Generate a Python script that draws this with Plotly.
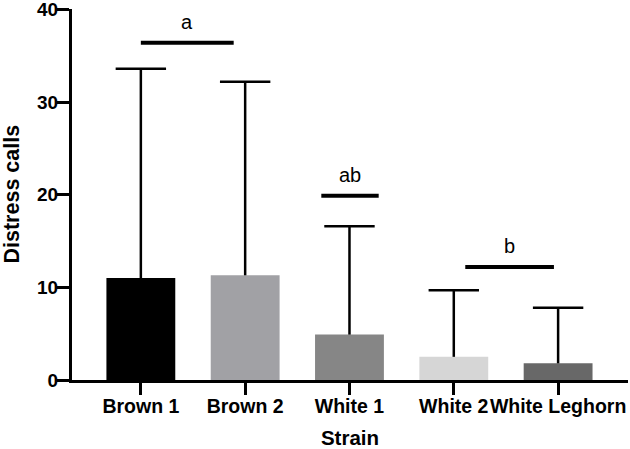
import plotly.graph_objects as go

strains = ["Brown 1", "Brown 2", "White 1", "White 2", "White Leghorn"]
means = [11.0, 11.3, 4.9, 2.5, 1.8]
sd_upper = [22.6, 20.9, 11.7, 7.2, 6.0]
bar_colors = ["#000000", "#a1a1a5", "#868686", "#d6d6d6", "#686868"]

sig_labels = ["a", "ab", "b"]
sig_x0 = [0.0, 1.73, 3.11]
sig_x1 = [0.89, 2.28, 3.96]
sig_y = [36.4, 19.9, 12.2]

y_ticks = [0, 10, 20, 30, 40]

FONT = "Liberation Sans, Arial, sans-serif"
xs = list(range(len(strains)))

fig = go.Figure()
fig.add_trace(go.Bar(
    x=xs,
    y=means,
    width=0.66,
    marker=dict(color=bar_colors, line=dict(width=0)),
    error_y=dict(type="data", symmetric=False, array=sd_upper,
                 arrayminus=[0] * len(means),
                 color="black", thickness=2.5, width=0),
    showlegend=False, hoverinfo="skip",
))
# caps of the error bars (top only)
fig.add_trace(go.Scatter(
    x=xs,
    y=[m + s for m, s in zip(means, sd_upper)],
    mode="markers",
    marker=dict(symbol="line-ew", size=36, color="black",
                line=dict(width=2.5, color="black")),
    showlegend=False, hoverinfo="skip",
))

for lab, x0, x1, y in zip(sig_labels, sig_x0, sig_x1, sig_y):
    fig.add_shape(type="line", x0=x0, x1=x1, y0=y, y1=y, xref="x", yref="y",
                  line=dict(color="black", width=4))
    fig.add_annotation(x=(x0 + x1) / 2, y=y, text=lab, showarrow=False,
                       yshift=21, font=dict(family=FONT, size=20, color="black"))

# y-axis title
fig.add_annotation(x=0, y=0.5, xref="paper", yref="paper", xshift=-61,
                   xanchor="center", yanchor="middle",
                   text="<b>Distress calls</b>", textangle=-90, showarrow=False,
                   font=dict(family=FONT, size=21.5, color="black"))

fig.update_layout(
    width=630, height=449,
    margin=dict(l=72, r=2, t=9, b=69),
    plot_bgcolor="white", paper_bgcolor="white",
    font=dict(family=FONT, color="black"),
    xaxis=dict(
        range=[-0.66, 4.67],
        tickvals=xs, ticktext=["<b>%s</b>" % s for s in strains],
        tickangle=0, ticklabeloverflow="allow", automargin=False,
        ticklabelstandoff=-5,
        showline=True, linecolor="black", linewidth=3,
        ticks="outside", ticklen=12, tickwidth=3, tickcolor="black",
        tickfont=dict(family=FONT, size=19.5, color="black"),
        showgrid=False, zeroline=False,
        title=dict(text="<b>Strain</b>", font=dict(family=FONT, size=20.5, color="black"), standoff=17),
    ),
    yaxis=dict(
        range=[0, 40.05],
        tickvals=y_ticks, ticktext=["<b>%d</b>" % t for t in y_ticks],
        automargin=False, ticklabelstandoff=-5, ticklabeloverflow="allow",
        showline=True, linecolor="black", linewidth=3,
        ticks="outside", ticklen=12, tickwidth=3, tickcolor="black",
        tickfont=dict(family=FONT, size=19, color="black"),
        showgrid=False, zeroline=False,
    ),
)

fig.write_html("out.html", config={"displayModeBar": False},
               post_script="document.body.style.margin='0';")
